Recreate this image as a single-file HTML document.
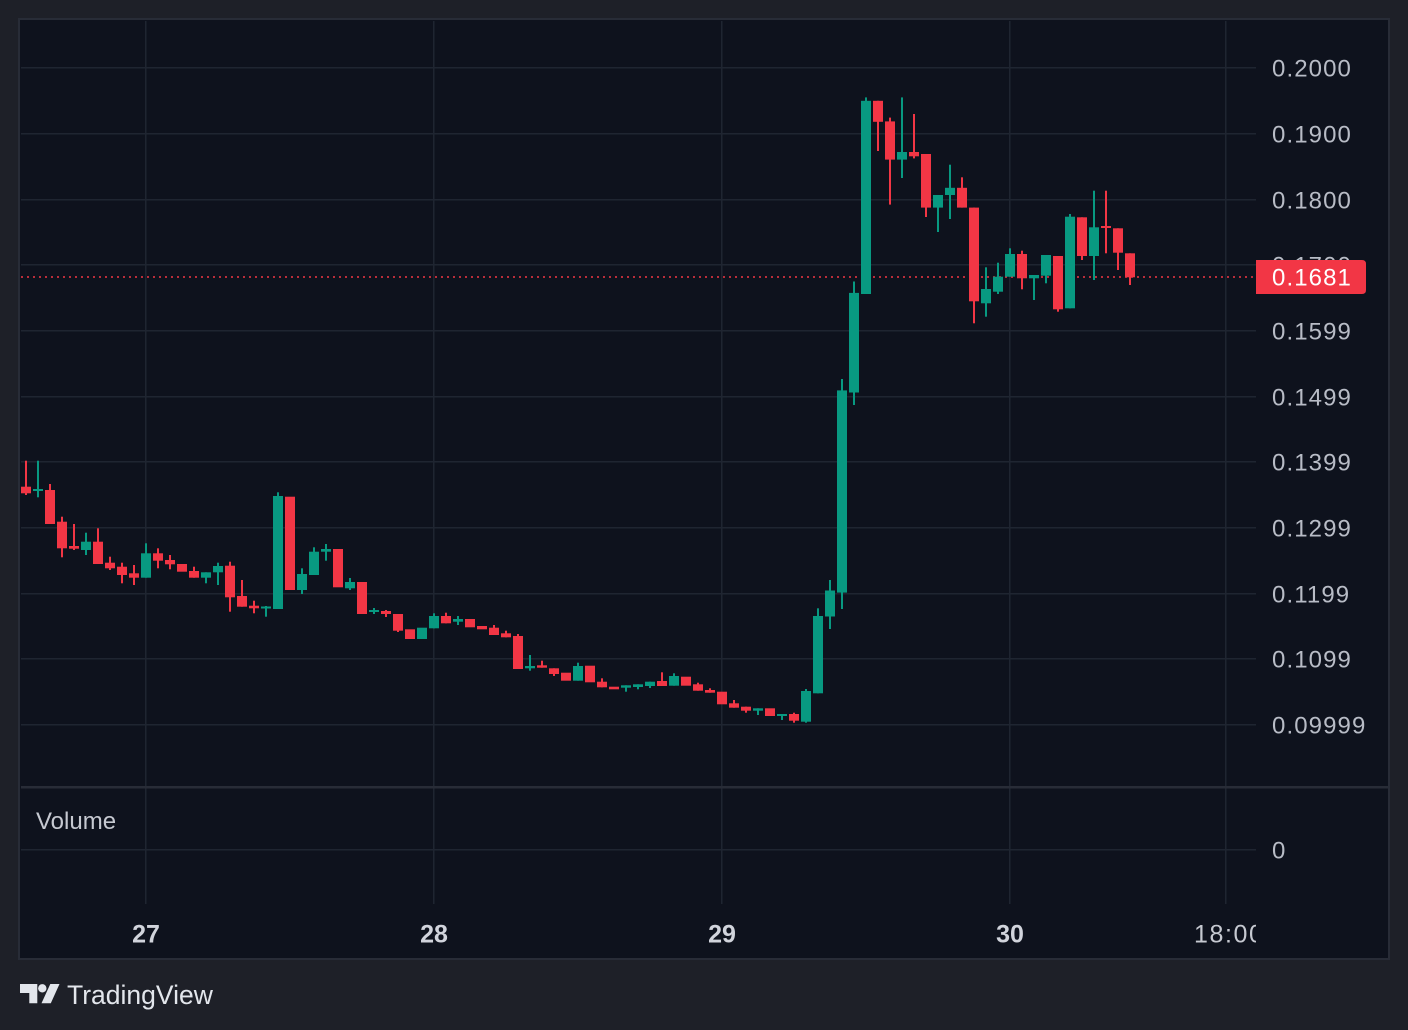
<!DOCTYPE html>
<html><head><meta charset="utf-8"><style>
html,body{margin:0;padding:0;background:#1e2028;}
svg{display:block;}
</style></head><body>
<svg width="1408" height="1030" viewBox="0 0 1408 1030" xmlns="http://www.w3.org/2000/svg" font-family="'Liberation Sans', sans-serif">
<defs>
<clipPath id="plot"><rect x="21" y="21" width="1235" height="765"/></clipPath>
<clipPath id="tax"><rect x="21" y="905" width="1235" height="52"/></clipPath>
</defs>
<rect x="0" y="0" width="1408" height="1030" fill="#1e2028"/>
<rect x="19" y="19" width="1370" height="940" fill="#0e121d" stroke="#282c37" stroke-width="2"/>
<g fill="#1f2531">
<rect x="21" y="67" width="1235" height="1.5"/>
<rect x="21" y="133" width="1235" height="1.5"/>
<rect x="21" y="199" width="1235" height="1.5"/>
<rect x="21" y="264" width="1235" height="1.5"/>
<rect x="21" y="330" width="1235" height="1.5"/>
<rect x="21" y="396" width="1235" height="1.5"/>
<rect x="21" y="461" width="1235" height="1.5"/>
<rect x="21" y="527" width="1235" height="1.5"/>
<rect x="21" y="593" width="1235" height="1.5"/>
<rect x="21" y="658" width="1235" height="1.5"/>
<rect x="21" y="724" width="1235" height="1.5"/>
<rect x="21" y="849" width="1235" height="1.5"/>
<rect x="145" y="21" width="1.5" height="883"/>
<rect x="433" y="21" width="1.5" height="883"/>
<rect x="721" y="21" width="1.5" height="883"/>
<rect x="1009" y="21" width="1.5" height="883"/>
<rect x="1225" y="21" width="1.5" height="883"/>
</g>
<rect x="21" y="786" width="1367" height="2.5" fill="#282c37"/>
<line x1="21" y1="277" x2="1256" y2="277" stroke="#f23645" stroke-width="1.6" stroke-dasharray="2 4"/>
<g clip-path="url(#plot)">
<g fill="#089981">
<rect x="37" y="460.7" width="2" height="36.6"/><rect x="33" y="489" width="10" height="2"/>
<rect x="85" y="532.7" width="2" height="22.3"/><rect x="81" y="541.7" width="10" height="8.3"/>
<rect x="145" y="543.3" width="2" height="34.4"/><rect x="141" y="553.3" width="10" height="24.4"/>
<rect x="205" y="572.3" width="2" height="11"/><rect x="201" y="572.3" width="10" height="5.4"/>
<rect x="217" y="562.7" width="2" height="22.3"/><rect x="213" y="566" width="10" height="6.3"/>
<rect x="265" y="606" width="2" height="10.7"/><rect x="261" y="606.5" width="10" height="2"/>
<rect x="277" y="492.3" width="2" height="116.7"/><rect x="273" y="496" width="10" height="113"/>
<rect x="301" y="568.3" width="2" height="25.7"/><rect x="297" y="574" width="10" height="16"/>
<rect x="313" y="547.3" width="2" height="27.7"/><rect x="309" y="551.7" width="10" height="23.3"/>
<rect x="325" y="544" width="2" height="16.7"/><rect x="321" y="549" width="10" height="2.7"/>
<rect x="349" y="578" width="2" height="12"/><rect x="345" y="582" width="10" height="6.3"/>
<rect x="373" y="608" width="2" height="6"/><rect x="369" y="610" width="10" height="2"/>
<rect x="417" y="627.7" width="10" height="11.3"/>
<rect x="433" y="613.3" width="2" height="15"/><rect x="429" y="616" width="10" height="12.3"/>
<rect x="457" y="616" width="2" height="9"/><rect x="453" y="619" width="10" height="2.7"/>
<rect x="529" y="655" width="2" height="15.7"/><rect x="525" y="666" width="10" height="2.3"/>
<rect x="577" y="662.7" width="2" height="18"/><rect x="573" y="666" width="10" height="14.7"/>
<rect x="625" y="685.3" width="2" height="6.4"/><rect x="621" y="685.3" width="10" height="2.4"/>
<rect x="637" y="684.3" width="2" height="5"/><rect x="633" y="684.3" width="10" height="2.7"/>
<rect x="649" y="681.7" width="2" height="6.3"/><rect x="645" y="681.7" width="10" height="4.3"/>
<rect x="673" y="673.3" width="2" height="12.4"/><rect x="669" y="676" width="10" height="9.7"/>
<rect x="757" y="708.3" width="2" height="6.7"/><rect x="753" y="708.3" width="10" height="2.4"/>
<rect x="781" y="714" width="2" height="6"/><rect x="777" y="714" width="10" height="2"/>
<rect x="805" y="689" width="2" height="33.7"/><rect x="801" y="691" width="10" height="30.7"/>
<rect x="817" y="608.3" width="2" height="85"/><rect x="813" y="616" width="10" height="77.3"/>
<rect x="829" y="580" width="2" height="49"/><rect x="825" y="590.5" width="10" height="26"/>
<rect x="841" y="379" width="2" height="230"/><rect x="837" y="390.4" width="10" height="202.2"/>
<rect x="853" y="281.5" width="2" height="123.5"/><rect x="849" y="292.9" width="10" height="99.6"/>
<rect x="865" y="97.4" width="2" height="196.6"/><rect x="861" y="100.8" width="10" height="193.2"/>
<rect x="901" y="97.4" width="2" height="80.6"/><rect x="897" y="152" width="10" height="7.6"/>
<rect x="937" y="195" width="2" height="37"/><rect x="933" y="195" width="10" height="12.6"/>
<rect x="949" y="164.7" width="2" height="54.3"/><rect x="945" y="187.8" width="10" height="7.2"/>
<rect x="985" y="267.3" width="2" height="49.4"/><rect x="981" y="289" width="10" height="14.3"/>
<rect x="997" y="262.7" width="2" height="31.3"/><rect x="993" y="276.7" width="10" height="15"/>
<rect x="1009" y="248.3" width="2" height="28.4"/><rect x="1005" y="254" width="10" height="22.7"/>
<rect x="1033" y="275" width="2" height="25"/><rect x="1029" y="275" width="10" height="3.3"/>
<rect x="1045" y="255" width="2" height="28.3"/><rect x="1041" y="255" width="10" height="20.7"/>
<rect x="1069" y="214" width="2" height="94.3"/><rect x="1065" y="216.7" width="10" height="91.6"/>
<rect x="1093" y="190.7" width="2" height="89.3"/><rect x="1089" y="227.3" width="10" height="28.7"/>
</g>
<g fill="#f23645">
<rect x="25" y="460.7" width="2" height="34.3"/><rect x="21" y="486.7" width="10" height="6.6"/>
<rect x="49" y="484" width="2" height="40"/><rect x="45" y="490" width="10" height="34"/>
<rect x="61" y="516.7" width="2" height="40.6"/><rect x="57" y="521.7" width="10" height="26.6"/>
<rect x="73" y="524" width="2" height="26"/><rect x="69" y="546" width="10" height="2.7"/>
<rect x="97" y="528.3" width="2" height="35.7"/><rect x="93" y="541.7" width="10" height="22.3"/>
<rect x="109" y="556.7" width="2" height="13.3"/><rect x="105" y="562.7" width="10" height="5.6"/>
<rect x="121" y="562.7" width="2" height="20.6"/><rect x="117" y="566.7" width="10" height="8.3"/>
<rect x="133" y="565" width="2" height="20"/><rect x="129" y="573.3" width="10" height="4.4"/>
<rect x="157" y="548.3" width="2" height="20"/><rect x="153" y="553.3" width="10" height="7.4"/>
<rect x="169" y="555" width="2" height="14.3"/><rect x="165" y="560" width="10" height="4.3"/>
<rect x="177" y="564" width="10" height="7.7"/>
<rect x="193" y="566.7" width="2" height="11"/><rect x="189" y="571" width="10" height="6.7"/>
<rect x="229" y="561.7" width="2" height="50"/><rect x="225" y="565.7" width="10" height="31.6"/>
<rect x="241" y="580" width="2" height="26.7"/><rect x="237" y="596" width="10" height="10.7"/>
<rect x="253" y="600.7" width="2" height="12.6"/><rect x="249" y="605.7" width="10" height="2.6"/>
<rect x="285" y="496.7" width="10" height="93.3"/>
<rect x="333" y="549" width="10" height="38.3"/>
<rect x="357" y="582" width="10" height="32"/>
<rect x="385" y="610" width="2" height="7"/><rect x="381" y="611" width="10" height="3"/>
<rect x="397" y="614" width="2" height="18"/><rect x="393" y="614" width="10" height="16.7"/>
<rect x="405" y="629.3" width="10" height="9.7"/>
<rect x="445" y="612.7" width="2" height="10.6"/><rect x="441" y="616" width="10" height="7.3"/>
<rect x="465" y="619" width="10" height="8.3"/>
<rect x="477" y="626" width="10" height="3.3"/>
<rect x="493" y="625" width="2" height="10"/><rect x="489" y="627.7" width="10" height="7.3"/>
<rect x="505" y="630.7" width="2" height="6.6"/><rect x="501" y="633.3" width="10" height="4"/>
<rect x="517" y="634" width="2" height="35"/><rect x="513" y="636" width="10" height="33"/>
<rect x="541" y="660.7" width="2" height="7"/><rect x="537" y="665.3" width="10" height="2.4"/>
<rect x="553" y="668.3" width="2" height="7.7"/><rect x="549" y="668.3" width="10" height="5.7"/>
<rect x="561" y="672.7" width="10" height="8"/>
<rect x="585" y="665.7" width="10" height="16.6"/>
<rect x="601" y="678.3" width="2" height="9"/><rect x="597" y="681.7" width="10" height="5.6"/>
<rect x="609" y="686.7" width="10" height="2.6"/>
<rect x="661" y="672.3" width="2" height="13.7"/><rect x="657" y="681" width="10" height="5"/>
<rect x="681" y="676.7" width="10" height="9"/>
<rect x="697" y="682.7" width="2" height="8"/><rect x="693" y="684.3" width="10" height="6.4"/>
<rect x="709" y="688.3" width="2" height="4.4"/><rect x="705" y="690" width="10" height="2.7"/>
<rect x="717" y="691.7" width="10" height="12.6"/>
<rect x="733" y="700" width="2" height="7.7"/><rect x="729" y="703.3" width="10" height="4.4"/>
<rect x="745" y="706.7" width="2" height="6"/><rect x="741" y="706.7" width="10" height="4"/>
<rect x="765" y="708.3" width="10" height="7.7"/>
<rect x="793" y="712.7" width="2" height="10"/><rect x="789" y="714" width="10" height="6.7"/>
<rect x="877" y="100.8" width="2" height="50.2"/><rect x="873" y="100.8" width="10" height="21"/>
<rect x="889" y="117.6" width="2" height="87"/><rect x="885" y="121.4" width="10" height="38.2"/>
<rect x="913" y="114" width="2" height="44.4"/><rect x="909" y="152" width="10" height="4.3"/>
<rect x="925" y="154" width="2" height="63"/><rect x="921" y="154" width="10" height="53.6"/>
<rect x="961" y="177.3" width="2" height="30.3"/><rect x="957" y="187.8" width="10" height="19.8"/>
<rect x="973" y="207.6" width="2" height="115.7"/><rect x="969" y="207.6" width="10" height="93.7"/>
<rect x="1021" y="250.7" width="2" height="38.6"/><rect x="1017" y="254" width="10" height="24.3"/>
<rect x="1057" y="256" width="2" height="55.7"/><rect x="1053" y="256" width="10" height="53.3"/>
<rect x="1081" y="217.3" width="2" height="42.7"/><rect x="1077" y="217.3" width="10" height="38.7"/>
<rect x="1105" y="190.7" width="2" height="62.6"/><rect x="1101" y="226" width="10" height="2"/>
<rect x="1117" y="228.3" width="2" height="41.7"/><rect x="1113" y="228.3" width="10" height="24.4"/>
<rect x="1129" y="253.3" width="2" height="31.7"/><rect x="1125" y="253.3" width="10" height="24"/>
</g>
</g>
<g fill="#b8bcc6" font-size="24" letter-spacing="1.1">
<text x="1272" y="76.6">0.2000</text>
<text x="1272" y="142.6">0.1900</text>
<text x="1272" y="208.6">0.1800</text>
<text x="1272" y="273.6">0.1700</text>
<text x="1272" y="339.6">0.1599</text>
<text x="1272" y="405.6">0.1499</text>
<text x="1272" y="470.6">0.1399</text>
<text x="1272" y="536.6">0.1299</text>
<text x="1272" y="602.6">0.1199</text>
<text x="1272" y="667.6">0.1099</text>
<text x="1272" y="733.6">0.09999</text>
<text x="1272" y="858.6">0</text>
</g>
<path d="M1256 260 H1362 Q1366 260 1366 264 V290 Q1366 294 1362 294 H1256 Z" fill="#f23645"/>
<text x="1272" y="285.6" fill="#ffffff" font-size="24" letter-spacing="1.1">0.1681</text>
<text x="36" y="829" fill="#c6c9d1" font-size="24">Volume</text>
<g fill="#d1d4dc" font-size="25" font-weight="bold" text-anchor="middle">
<text x="146" y="942.5">27</text>
<text x="434" y="942.5">28</text>
<text x="722" y="942.5">29</text>
<text x="1010" y="942.5">30</text>
</g>
<g clip-path="url(#tax)">
<text x="1194" y="942.5" fill="#c6c9d1" font-size="25" letter-spacing="1.6">18:00</text>
</g>
<g fill="#e3e6ec">
<path d="M20 984 H37.3 V1003.3 H29.3 V993 H20 Z"/>
<circle cx="42.3" cy="988.3" r="4.2"/>
<path d="M50.3 984 H59.5 L50.8 1003.3 H41.5 Z"/>
<text x="67" y="1004" font-size="26.5">TradingView</text>
</g>
</svg>
</body></html>
